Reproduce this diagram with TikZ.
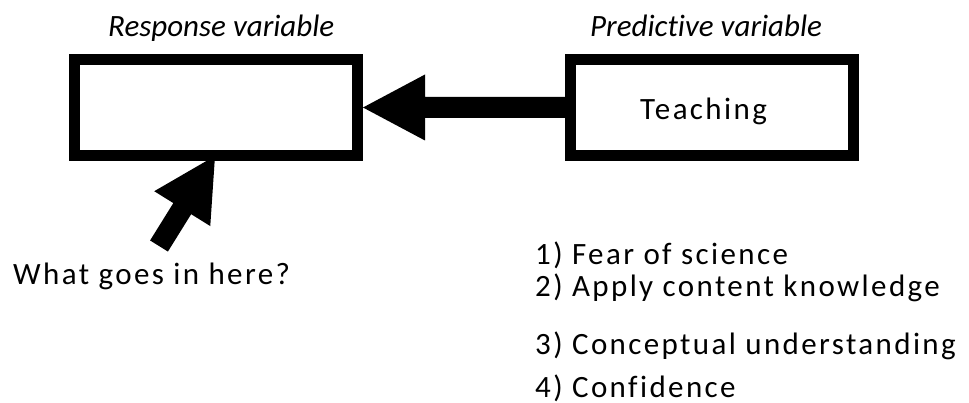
\documentclass[tikz,border=0pt]{standalone}
\usepackage{fontspec}
\setmainfont[Ligatures=NoCommon]{Carlito}
\newfontfamily\spacedfont[LetterSpace=7.7,Ligatures=NoCommon]{Carlito}
\usetikzlibrary{calc}

% thick block arrow from #1 (tail) to #2 (tip)
\newcommand\fatarrow[2]{%
  \coordinate (fa-h) at ($(#2)!62pt!(#1)$);
  \fill (#2) -- ($(fa-h)!33pt!90:(#2)$) -- ($(fa-h)!10.5pt!90:(#2)$)
    -- ($(#1)!10.5pt!90:(#2)$) -- ($(#1)!10.5pt!-90:(#2)$)
    -- ($(fa-h)!10.5pt!-90:(#2)$) -- ($(fa-h)!33pt!-90:(#2)$) -- cycle;}

\tikzset{
  varbox/.style={draw, line width=11pt, minimum width=283pt,
    minimum height=96pt, inner sep=0pt},
  headtext/.style={font=\fontsize{31pt}{37pt}\selectfont\itshape,
    anchor=base west, inner sep=0pt},
  bodytext/.style={font=\fontsize{31pt}{37pt}\selectfont\spacedfont,
    anchor=base west, inner sep=0pt},
}

\begin{document}
\begin{tikzpicture}[x=1pt,y=1pt]
  \useasboundingbox (0,0) rectangle (969,-403);

  % variable boxes
  \node[varbox] (resp) at (216,-107.5) {};
  \node[varbox] (pred) at (712,-107.5) {};

  % captions
  \node[headtext] (respcap) at (108,-37) {Response variable};
  \node[headtext] (predcap) at (590,-37) {Predictive variable};
  \node[bodytext] (teach) at (640,-120) {Teaching};

  % arrows
  \fatarrow{pred.west}{resp.east}
  \coordinate (asktail) at (159,-246);
  \coordinate (asktip) at ($(resp.south)+(-1,5)$);
  \fatarrow{asktail}{asktip}

  % question and candidate responses
  \node[bodytext] (ask) at (13,-285) {What goes in here?};
  \node[bodytext] (item1) at (535,-265) {1) Fear of science};
  \node[bodytext] (item2) at (535,-297) {2) Apply content knowledge};
  \node[bodytext] (item3) at (535,-354) {3) Conceptual understanding};
  \node[bodytext] (item4) at (535,-397) {4) Confidence};
\end{tikzpicture}
\end{document}
